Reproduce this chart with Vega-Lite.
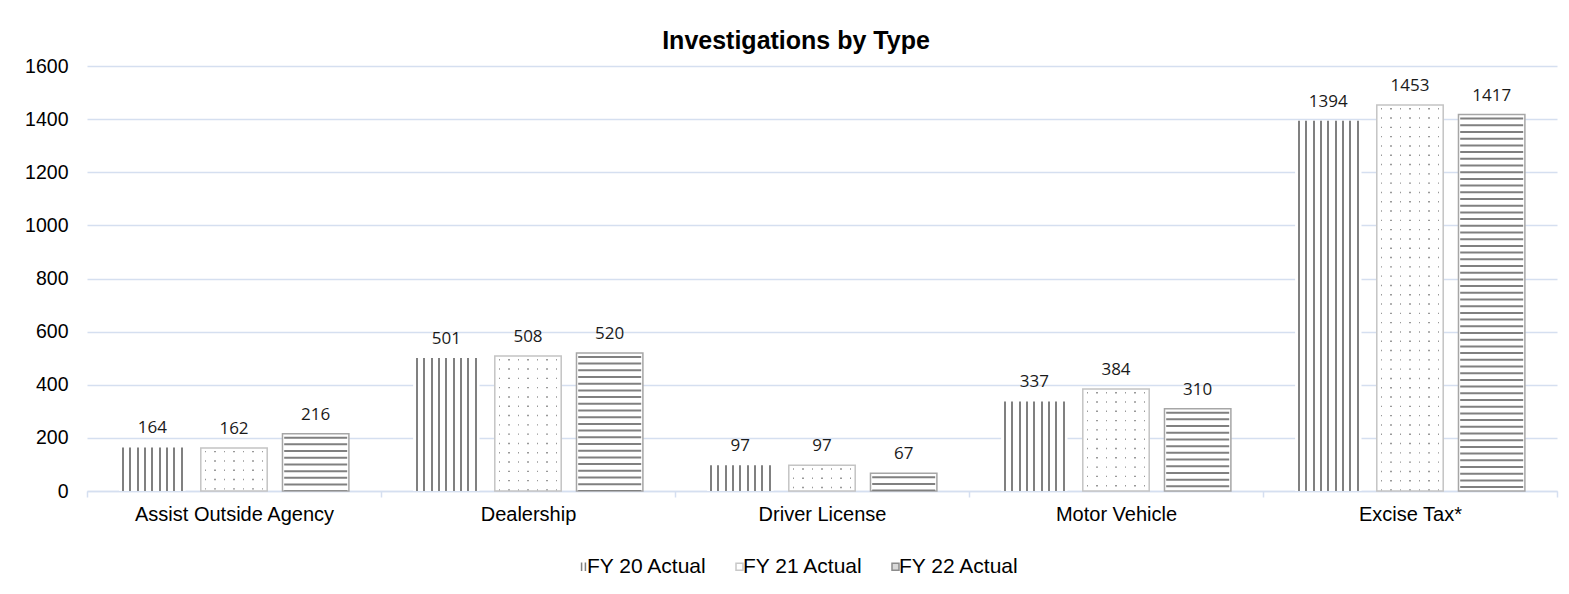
{
  "$schema": "https://vega.github.io/schema/vega-lite/v6.json",
  "width": 1470,
  "height": 425,
  "autosize": {"type": "none"},
  "padding": {"left": 87, "top": 66, "right": 12, "bottom": 103},
  "background": "white",
  "config": {"view": {"stroke": null}, "font": "Liberation Sans"},
  "title": {"text": "Investigations by Type", "font": "Liberation Sans", "fontSize": 25, "fontWeight": "bold", "color": "#000000", "anchor": "middle", "offset": 2, "dx": -26},
  "data": {
    "values": [
      {"category": "Assist Outside Agency", "series": "FY 20 Actual", "value": 164},
      {"category": "Assist Outside Agency", "series": "FY 21 Actual", "value": 162},
      {"category": "Assist Outside Agency", "series": "FY 22 Actual", "value": 216},
      {"category": "Dealership", "series": "FY 20 Actual", "value": 501},
      {"category": "Dealership", "series": "FY 21 Actual", "value": 508},
      {"category": "Dealership", "series": "FY 22 Actual", "value": 520},
      {"category": "Driver License", "series": "FY 20 Actual", "value": 97},
      {"category": "Driver License", "series": "FY 21 Actual", "value": 97},
      {"category": "Driver License", "series": "FY 22 Actual", "value": 67},
      {"category": "Motor Vehicle", "series": "FY 20 Actual", "value": 337},
      {"category": "Motor Vehicle", "series": "FY 21 Actual", "value": 384},
      {"category": "Motor Vehicle", "series": "FY 22 Actual", "value": 310},
      {"category": "Excise Tax*", "series": "FY 20 Actual", "value": 1394},
      {"category": "Excise Tax*", "series": "FY 21 Actual", "value": 1453},
      {"category": "Excise Tax*", "series": "FY 22 Actual", "value": 1417}
    ]
  },
  "encoding": {
    "x": {
      "field": "category", "type": "nominal",
      "sort": ["Assist Outside Agency", "Dealership", "Driver License", "Motor Vehicle", "Excise Tax*"],
      "scale": {"paddingInner": 0, "paddingOuter": 0},
      "axis": {"title": null, "labelAngle": 0, "labelLimit": 400, "labelFont": "Liberation Sans", "labelFontSize": 20, "labelColor": "#000000", "domainColor": "#d5dff0", "domainWidth": 1.5, "tickColor": "#d5dff0", "tickWidth": 1.5, "tickSize": 6, "tickBand": "extent", "labelPadding": 7, "grid": false}
    },
    "xOffset": {
      "field": "series", "type": "nominal",
      "scale": {"domain": ["FY 20 Actual", "FY 21 Actual", "FY 22 Actual"], "paddingInner": 0.187, "paddingOuter": 0.393}
    },
    "y": {
      "field": "value", "type": "quantitative",
      "scale": {"domain": [0, 1600]},
      "axis": {"title": null, "format": "d", "values": [0, 200, 400, 600, 800, 1000, 1200, 1400, 1600], "labelFont": "Liberation Sans", "labelFontSize": 19.5, "labelColor": "#000000", "domain": false, "ticks": false, "gridColor": "#d5dff0", "gridWidth": 1.5, "labelPadding": 19}
    }
  },
  "layer": [
    {
      "transform": [{"filter": "datum.series === 'FY 20 Actual'"}],
      "mark": {
        "type": "bar",
        "fill": {
          "gradient": "linear", "x1": 0, "y1": 0, "x2": 1, "y2": 0,
          "stops": [
            {"offset": 0, "color": "#ffffff"},
            {"offset": 0.04, "color": "#ffffff"}, {"offset": 0.04, "color": "#808080"}, {"offset": 0.0711, "color": "#808080"}, {"offset": 0.0711, "color": "#ffffff"},
            {"offset": 0.1511, "color": "#ffffff"}, {"offset": 0.1511, "color": "#808080"}, {"offset": 0.1822, "color": "#808080"}, {"offset": 0.1822, "color": "#ffffff"},
            {"offset": 0.2622, "color": "#ffffff"}, {"offset": 0.2622, "color": "#808080"}, {"offset": 0.2933, "color": "#808080"}, {"offset": 0.2933, "color": "#ffffff"},
            {"offset": 0.3733, "color": "#ffffff"}, {"offset": 0.3733, "color": "#808080"}, {"offset": 0.4044, "color": "#808080"}, {"offset": 0.4044, "color": "#ffffff"},
            {"offset": 0.4844, "color": "#ffffff"}, {"offset": 0.4844, "color": "#808080"}, {"offset": 0.5156, "color": "#808080"}, {"offset": 0.5156, "color": "#ffffff"},
            {"offset": 0.5956, "color": "#ffffff"}, {"offset": 0.5956, "color": "#808080"}, {"offset": 0.6267, "color": "#808080"}, {"offset": 0.6267, "color": "#ffffff"},
            {"offset": 0.7067, "color": "#ffffff"}, {"offset": 0.7067, "color": "#808080"}, {"offset": 0.7378, "color": "#808080"}, {"offset": 0.7378, "color": "#ffffff"},
            {"offset": 0.8178, "color": "#ffffff"}, {"offset": 0.8178, "color": "#808080"}, {"offset": 0.8489, "color": "#808080"}, {"offset": 0.8489, "color": "#ffffff"},
            {"offset": 0.9289, "color": "#ffffff"}, {"offset": 0.9289, "color": "#808080"}, {"offset": 0.96, "color": "#808080"}, {"offset": 0.96, "color": "#ffffff"},
            {"offset": 1, "color": "#ffffff"}
          ]
        }
      }
    },
    {
      "transform": [{"filter": "datum.series === 'FY 21 Actual'"}],
      "mark": {"type": "bar", "fill": "#ffffff"}
    },
    {
      "transform": [{"filter": "datum.series === 'FY 21 Actual'"}],
      "mark": {"type": "rule", "color": "#999999", "strokeWidth": 62, "strokeDash": [1.4, 7.9], "strokeDashOffset": 6.3},
      "encoding": {"y2": {"datum": 0}}
    },
    {
      "transform": [{"filter": "datum.series === 'FY 21 Actual'"}],
      "mark": {
        "type": "bar", "stroke": "#c4c4c4", "strokeWidth": 1.5,
        "fill": {
          "gradient": "linear", "x1": 0, "y1": 0, "x2": 1, "y2": 0,
          "stops": [
            {"offset": 0, "color": "#ffffff"},
            {"offset": 0.061, "color": "#ffffff"}, {"offset": 0.061, "color": "rgba(255,255,255,0)"}, {"offset": 0.082, "color": "rgba(255,255,255,0)"}, {"offset": 0.082, "color": "#ffffff"},
            {"offset": 0.204, "color": "#ffffff"}, {"offset": 0.204, "color": "rgba(255,255,255,0)"}, {"offset": 0.225, "color": "rgba(255,255,255,0)"}, {"offset": 0.225, "color": "#ffffff"},
            {"offset": 0.347, "color": "#ffffff"}, {"offset": 0.347, "color": "rgba(255,255,255,0)"}, {"offset": 0.368, "color": "rgba(255,255,255,0)"}, {"offset": 0.368, "color": "#ffffff"},
            {"offset": 0.4895, "color": "#ffffff"}, {"offset": 0.4895, "color": "rgba(255,255,255,0)"}, {"offset": 0.5105, "color": "rgba(255,255,255,0)"}, {"offset": 0.5105, "color": "#ffffff"},
            {"offset": 0.632, "color": "#ffffff"}, {"offset": 0.632, "color": "rgba(255,255,255,0)"}, {"offset": 0.653, "color": "rgba(255,255,255,0)"}, {"offset": 0.653, "color": "#ffffff"},
            {"offset": 0.775, "color": "#ffffff"}, {"offset": 0.775, "color": "rgba(255,255,255,0)"}, {"offset": 0.796, "color": "rgba(255,255,255,0)"}, {"offset": 0.796, "color": "#ffffff"},
            {"offset": 0.918, "color": "#ffffff"}, {"offset": 0.918, "color": "rgba(255,255,255,0)"}, {"offset": 0.939, "color": "rgba(255,255,255,0)"}, {"offset": 0.939, "color": "#ffffff"},
            {"offset": 1, "color": "#ffffff"}
          ]
        }
      }
    },
    {
      "transform": [{"filter": "datum.series === 'FY 22 Actual'"}],
      "mark": {"type": "bar", "fill": "#ffffff", "stroke": "#a6a6a6", "strokeWidth": 1.5}
    },
    {
      "transform": [{"filter": "datum.series === 'FY 22 Actual'"}],
      "mark": {"type": "rule", "color": "#808080", "strokeWidth": 63, "strokeDash": [2, 4.7], "strokeDashOffset": 3.7},
      "encoding": {"y2": {"datum": 0}}
    },
    {
      "mark": {"type": "text", "dy": -14, "baseline": "alphabetic", "font": "Open Sans", "fontSize": 17, "color": "#1a1a1a"},
      "encoding": {"text": {"field": "value", "type": "quantitative"}}
    },
    {
      "mark": {"type": "point", "opacity": 0, "filled": false},
      "encoding": {
        "shape": {
          "field": "series", "type": "nominal",
          "scale": {"domain": ["FY 20 Actual", "FY 21 Actual", "FY 22 Actual"], "range": ["M-0.55,-1.2V1.2M0.55,-1.2V1.2", "square", "square"]},
          "legend": {"orient": "none", "legendX": 486, "legendY": 490, "direction": "horizontal", "title": null, "labelFont": "Liberation Sans", "labelFontSize": 21, "labelColor": "#000000", "symbolSize": 49, "symbolStrokeWidth": 1.5, "columnPadding": 21, "labelOffset": -7, "symbolOpacity": 1, "encode": {"symbols": {"update": {"opacity": {"value": 1}}}}}
        },
        "stroke": {
          "field": "series", "type": "nominal",
          "scale": {"domain": ["FY 20 Actual", "FY 21 Actual", "FY 22 Actual"], "range": ["#808080", "#c8c8c8", "#8c8c8c"]},
          "legend": {"orient": "none", "legendX": 486, "legendY": 490, "direction": "horizontal", "title": null, "labelFont": "Liberation Sans", "labelFontSize": 21, "labelColor": "#000000", "symbolSize": 49, "symbolStrokeWidth": 1.5, "columnPadding": 21, "labelOffset": -7, "symbolOpacity": 1, "encode": {"symbols": {"update": {"opacity": {"value": 1}}}}}
        },
        "fill": {
          "field": "series", "type": "nominal",
          "scale": {"domain": ["FY 20 Actual", "FY 21 Actual", "FY 22 Actual"], "range": ["rgba(255,255,255,0)", "#ffffff", "#d9d9d9"]},
          "legend": {"orient": "none", "legendX": 486, "legendY": 490, "direction": "horizontal", "title": null, "labelFont": "Liberation Sans", "labelFontSize": 21, "labelColor": "#000000", "symbolSize": 49, "symbolStrokeWidth": 1.5, "columnPadding": 21, "labelOffset": -7, "symbolOpacity": 1, "encode": {"symbols": {"update": {"opacity": {"value": 1}}}}}
        }
      }
    }
  ]
}
